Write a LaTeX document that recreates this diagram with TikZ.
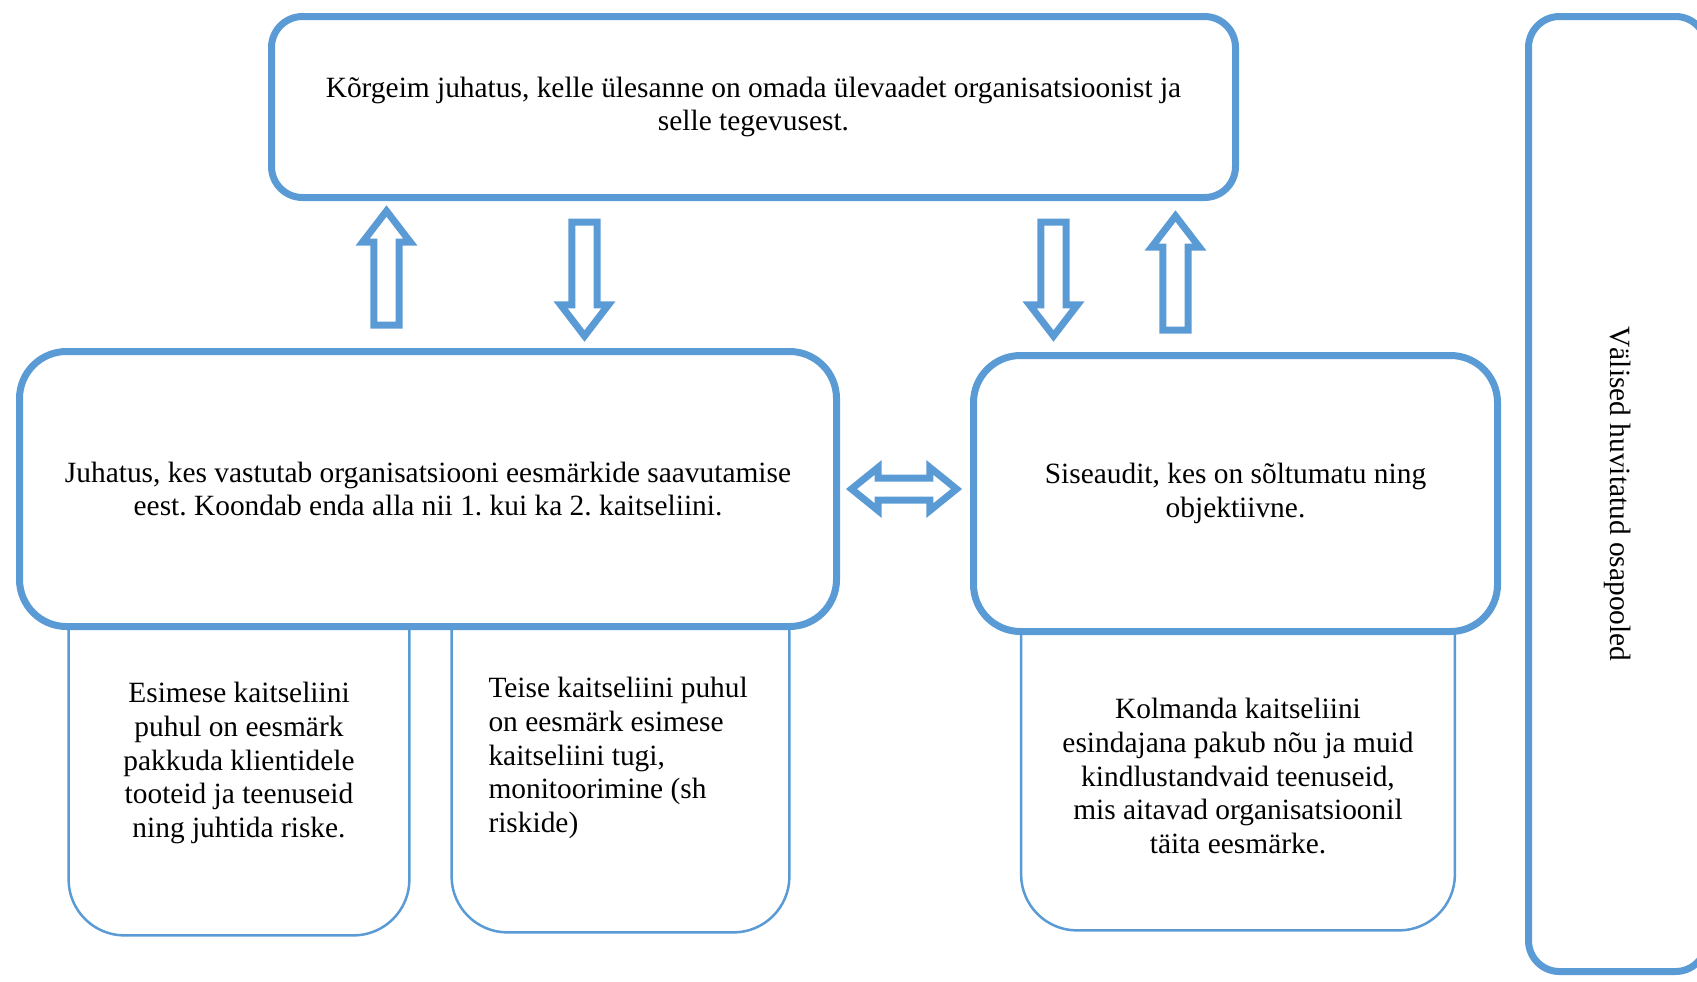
\documentclass[tikz,border=0pt]{standalone}
\usepackage{fontspec}
\setmainfont{Liberation Serif}
\usetikzlibrary{shapes.arrows}
\definecolor{wordblue}{HTML}{5B9BD5}
\frenchspacing

\begin{document}
\begin{tikzpicture}[x=0.5pt,y=-0.5pt,font=\fontsize{14.7}{16.8}\selectfont,
                main/.style = {draw=wordblue, line width=3.5pt, fill=white, align=center, rounded corners=23.5pt},
                sub/.style = {inner sep=0pt},
                subline/.style = {draw=wordblue, line width=1.25pt, rounded corners=28pt},
                bigarrow/.style = {single arrow, draw=wordblue, fill=white, line width=3.5pt, inner xsep=0pt, inner ysep=4.6pt,
                    single arrow head extend=5.6pt, single arrow tip angle=75, minimum height=57pt, anchor=tail}]
                \useasboundingbox (0,0) rectangle (1697,981);
                \clip (0,0) rectangle (1697,981);
                % the three lines of defence
                \node[sub, minimum width=170pt, minimum height=172pt, align=center] (4) at (239,763)
                    {Esimese kaitseliini\\ puhul on eesmärk\\ pakkuda klientidele\\ tooteid ja teenuseid\\ ning juhtida riske.};
                \node[sub, minimum width=168.5pt, minimum height=174pt, text width=132pt, align=flush left] (5) at (620.5,758)
                    {Teise kaitseliini puhul\\ on eesmärk esimese\\ kaitseliini tugi,\\ monitoorimine (sh\\ riskide)};
                \node[sub, minimum width=216.5pt, minimum height=154pt, align=center] (6) at (1238,776)
                    {Kolmanda kaitseliini\\ esindajana pakub nõu ja muid\\ kindlustandvaid teenuseid,\\ mis aitavad organisatsioonil\\ täita eesmärke.};
                \foreach \n in {4,5,6}
                    \draw[subline] (\n.north west) -- (\n.south west) -- (\n.south east) -- (\n.north east);
                % boards
                \node[main, rounded corners=15.5pt, minimum width=482pt, minimum height=90.5pt] (1) at (753.5,107)
                    {Kõrgeim juhatus, kelle ülesanne on omada ülevaadet organisatsioonist ja\\ selle tegevusest.};
                \node[main, minimum width=408.5pt, minimum height=137.5pt] (2) at (428,489)
                    {Juhatus, kes vastutab organisatsiooni eesmärkide saavutamise\\ eest. Koondab enda alla nii 1. kui ka 2. kaitseliini.};
                \node[main, minimum width=262pt, minimum height=138pt] (3) at (1235.5,493.5)
                    {Siseaudit, kes on sõltumatu ning\\ objektiivne.};
                \node[main, rounded corners=15.5pt, rotate=-90, minimum width=477.5pt, minimum height=89pt] (7) at (1617.5,494)
                    {Välised huvitatud osapooled};
                % block arrows
                \node[bigarrow, rotate=90] (u1) at (386.5,328.5) {};
                \node[bigarrow, rotate=-90] (d1) at (584.5,218.5) {};
                \node[bigarrow, rotate=-90] (d2) at (1053.5,218.5) {};
                \node[bigarrow, rotate=90] (u2) at (1175.5,333.5) {};
                \node[double arrow, draw=wordblue, fill=white, line width=3.5pt, inner xsep=0pt, inner ysep=3.75pt,
                    double arrow head extend=5.25pt, double arrow tip angle=78, minimum height=52.5pt] (lr) at (904,489) {};
            \end{tikzpicture}
\end{document}
